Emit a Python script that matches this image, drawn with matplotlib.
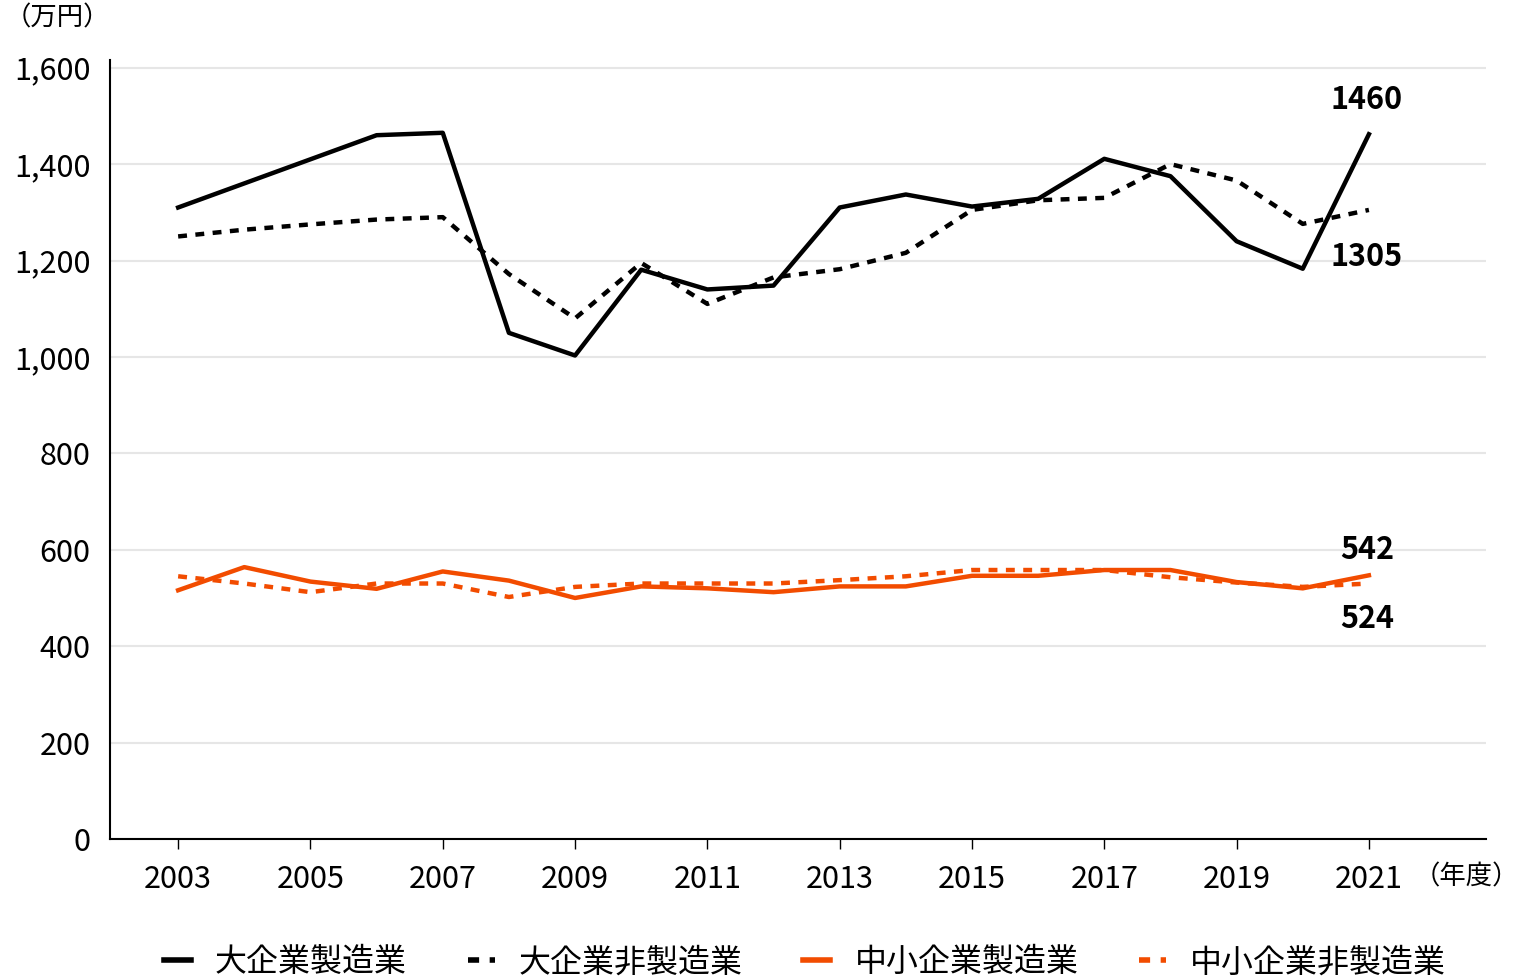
import matplotlib
matplotlib.use('Agg')
import matplotlib.pyplot as plt

plt.rcParams['font.family'] = ['Noto Sans CJK JP', 'DejaVu Sans']

years = list(range(2003, 2022))

# 大企業製造業
large_mfg = [1310, 1360, 1410, 1460, 1465, 1050, 1003, 1181, 1140, 1148,
             1310, 1337, 1312, 1328, 1411, 1375, 1240, 1183, 1462]
# 大企業非製造業
large_non = [1250, 1264, 1275, 1285, 1290, 1172, 1080, 1195, 1110, 1165,
             1182, 1216, 1305, 1325, 1330, 1400, 1366, 1276, 1305]
# 中小企業製造業
small_mfg = [516, 564, 534, 519, 555, 536, 500, 524, 520, 512,
             524, 524, 546, 546, 558, 558, 533, 520, 547]
# 中小企業非製造業
small_non = [545, 530, 512, 530, 530, 502, 523, 530, 530, 530,
             537, 545, 558, 558, 558, 543, 532, 523, 530]

series_names = ['大企業製造業', '大企業非製造業', '中小企業製造業', '中小企業非製造業']
end_labels = ['1460', '1305', '542', '524']
xticks = list(range(2003, 2022, 2))
yticks = list(range(0, 1601, 200))

black = '#000000'
orange = '#F24C00'
dots = (0, (2.0, 1.9))

fig = plt.figure(figsize=(15.2, 9.76), dpi=100)
ax = fig.add_axes([110/1520, 1 - 839/976, (1486-110)/1520, (839-60)/976])

l1, = ax.plot(years, large_mfg, color=black, lw=3.2, label=series_names[0])
l2, = ax.plot(years, large_non, color=black, lw=3.2, ls=dots, label=series_names[1])
l3, = ax.plot(years, small_mfg, color=orange, lw=3.2, label=series_names[2])
l4, = ax.plot(years, small_non, color=orange, lw=3.2, ls=dots, label=series_names[3])

ax.set_xlim(2001.97, 2022.77)
ax.set_ylim(0, 1616)
ax.set_xticks(xticks)
ax.set_yticks(yticks)
ax.set_yticklabels([f'{v:,}' for v in yticks])
ax.tick_params(axis='both', labelsize=22)
ax.tick_params(axis='y', length=0, pad=14)
ax.tick_params(axis='x', length=7, width=1, direction='out', pad=11)
ax.grid(axis='y', color='#e6e6e6', lw=1.5)
ax.set_axisbelow(True)
for s in ['top', 'right']:
    ax.spines[s].set_visible(False)
for s in ['left', 'bottom']:
    ax.spines[s].set_linewidth(1.5)

# end-of-line labels (bold, right end)
lab_x = 2020.97
ax.text(lab_x, 1533, end_labels[0], ha='center', va='center', fontsize=22, fontweight='bold')
ax.text(lab_x, 1208, end_labels[1], ha='center', va='center', fontsize=22, fontweight='bold')
ax.text(lab_x, 600, end_labels[2], ha='center', va='center', fontsize=22, fontweight='bold')
ax.text(lab_x, 456, end_labels[3], ha='center', va='center', fontsize=22, fontweight='bold')

fig.text(5/1520, 1 - 18/976, '（万円）', ha='left', va='center', fontsize=19)
fig.text(1519/1520, 1 - 877/976, '（年度）', ha='right', va='center', fontsize=19)

leg = fig.legend(handles=[l1, l2, l3, l4], loc='center', bbox_to_anchor=(0.5296, 0.014),
                 ncol=4, frameon=False, fontsize=23, handlelength=0.85, columnspacing=1.9,
                 handletextpad=0.75)
for h in leg.get_lines():
    h.set_linewidth(4)

fig.savefig('out.png', dpi=100)
